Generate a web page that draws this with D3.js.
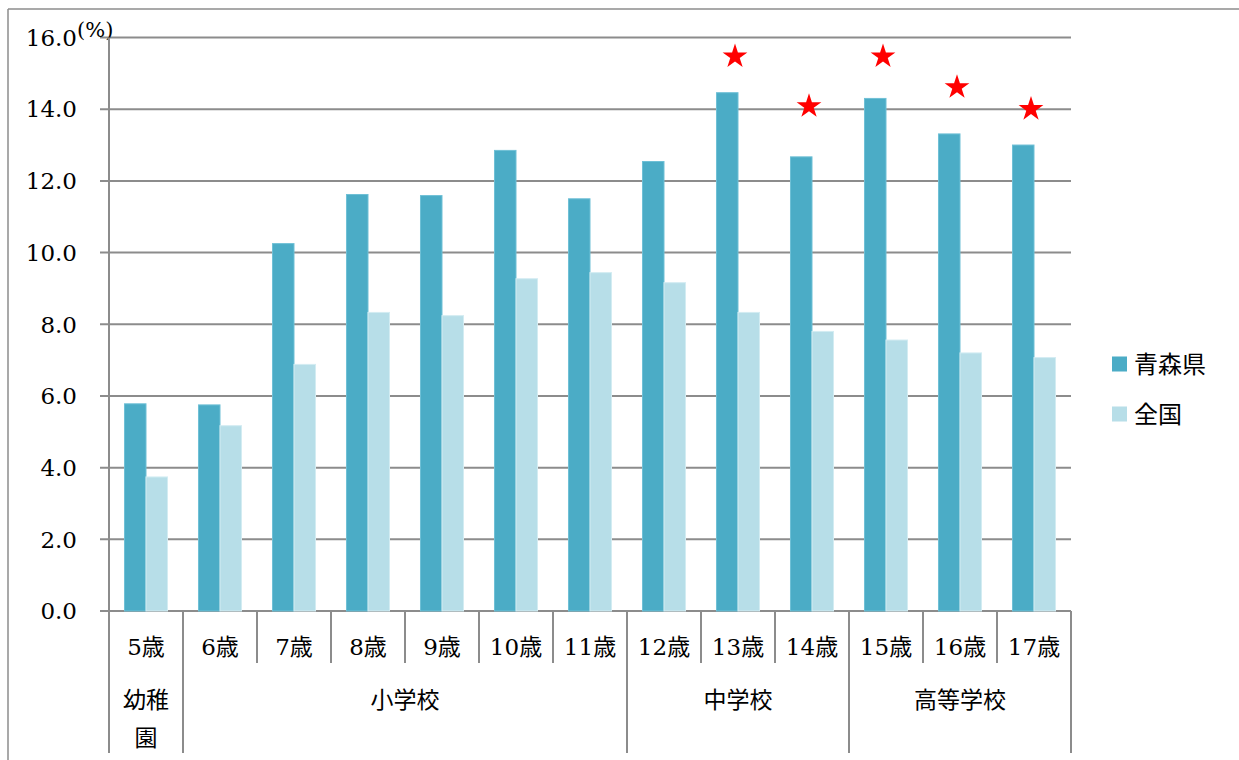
<!DOCTYPE html>
<html><head><meta charset="utf-8">
<script src="https://cdn.jsdelivr.net/npm/d3@7/dist/d3.min.js"></script>
<style>
html,body{margin:0;padding:0;background:#fff;}
svg{display:block;}
</style></head>
<body>
<svg id="chart" width="1239" height="760"></svg>
<script>
const ages = ["5歳","6歳","7歳","8歳","9歳","10歳","11歳","12歳","13歳","14歳","15歳","16歳","17歳"];
const aomori = [5.78,5.75,10.25,11.62,11.59,12.85,11.5,12.54,14.46,12.67,14.30,13.31,13.0];
const national = [3.74,5.17,6.88,8.33,8.24,9.27,9.44,9.16,8.33,7.80,7.56,7.20,7.07];
const seriesNames = ["青森県","全国"];
const yTicks = [0,2,4,6,8,10,12,14,16];
const starAges = ["13歳","14歳","15歳","16歳","17歳"];
const starLevels = [15.5,14.11,15.5,14.64,14.03];
const groupNames = ["幼稚園","小学校","中学校","高等学校"];
const groupStart = ["5歳","6歳","12歳","15歳"];
const groupEnd = ["5歳","11歳","14歳","17歳"];

const colors = ["#4BACC6","#B7DEE8"];
const strokeColors = ["#6fc0d6","#d3ecf2"];
const grid = "#8c8c8c";
const numFont = "'DejaVu Serif','Noto Sans CJK JP',serif";
const cjkFont = "'Noto Sans CJK JP','DejaVu Sans',sans-serif";

const svg = d3.select("#chart");
const x = d3.scaleBand().domain(ages).range([109,1071]).paddingInner(0).paddingOuter(0);
const xs = d3.scaleBand().domain(seriesNames).range([0,x.bandwidth()]).paddingInner(0).paddingOuter(0.72);
const y = d3.scaleLinear().domain([0,16]).range([611,37.5]);

// outer frame
svg.append("line").attr("x1",8).attr("x2",1239).attr("y1",9).attr("y2",9).attr("stroke",grid).attr("stroke-width",1.5);
svg.append("line").attr("x1",8).attr("x2",8).attr("y1",9).attr("y2",760).attr("stroke",grid).attr("stroke-width",1.5);

// gridlines + ticks
svg.append("g").selectAll("line").data(yTicks).join("line")
  .attr("x1",100).attr("x2",1071).attr("y1",d=>y(d)).attr("y2",d=>y(d))
  .attr("stroke",grid).attr("stroke-width",2);

// y labels
svg.append("g").selectAll("text").data(yTicks).join("text")
  .attr("x",77).attr("y",d=>y(d)).attr("dy","0.36em")
  .attr("text-anchor","end").attr("font-family",numFont).attr("font-size",23).attr("fill","#000")
  .text(d=>d.toFixed(1));
svg.append("text").attr("x",77).attr("y",y(16)-1).attr("font-family",numFont).attr("font-size",21).attr("fill","#000").text("(%)");

// bars
const gBars = svg.append("g");
ages.forEach((a,i)=>{
  [aomori[i],national[i]].forEach((v,k)=>{
    gBars.append("rect")
      .attr("x",x(a)+xs(seriesNames[k])).attr("width",xs.bandwidth())
      .attr("y",y(v)).attr("height",y(0)-y(v))
      .attr("fill",colors[k]).attr("stroke",strokeColors[k]).attr("stroke-width",1);
  });
});

// stars
svg.append("g").selectAll("path").data(starAges).join("path")
  .attr("d",d3.symbol().type(d3.symbolStar).size(190))
  .attr("transform",(d,i)=>`translate(${x(d)+x.bandwidth()/2-3},${y(starLevels[i])+1})`)
  .attr("fill","#ff0000");

// axis line (left)
svg.append("line").attr("x1",109).attr("x2",109).attr("y1",37.5).attr("y2",753).attr("stroke",grid).attr("stroke-width",2);

// category separators
const gSep = svg.append("g");
const longBounds = new Set();
groupStart.forEach(s=>longBounds.add(x(s)));
groupEnd.forEach(e=>longBounds.add(x(e)+x.bandwidth()));
const bounds = ages.map(a=>x(a)).concat([x(ages[ages.length-1])+x.bandwidth()]);
bounds.forEach(b=>{
  if (b===109) return;
  gSep.append("line").attr("x1",b).attr("x2",b).attr("y1",y(0)).attr("y2",longBounds.has(b)?753:663)
    .attr("stroke",grid).attr("stroke-width",2);
});

// category labels
svg.append("g").selectAll("text").data(ages).join("text")
  .attr("x",d=>x(d)+x.bandwidth()/2).attr("y",647).attr("dy","0.35em")
  .attr("text-anchor","middle").attr("font-family",numFont).attr("font-size",23).attr("fill","#000")
  .each(function(d){
    const t = d3.select(this);
    t.append("tspan").text(d.replace("歳",""));
    t.append("tspan").attr("font-family",cjkFont).attr("font-size",23).text("歳");
  });

// group labels
groupNames.forEach((g,i)=>{
  const x0 = x(groupStart[i]), x1 = x(groupEnd[i])+x.bandwidth();
  const cx = (x0+x1)/2;
  const lines = (x1-x0) < 100 && g.length>2 ? [g.slice(0,2), g.slice(2)] : [g];
  lines.forEach((ln,j)=>{
    svg.append("text").attr("x",cx).attr("y",700+j*38).attr("dy","0.35em")
      .attr("text-anchor","middle").attr("font-family",cjkFont).attr("font-size",23).attr("fill","#000").text(ln);
  });
});

// legend
seriesNames.forEach((s,i)=>{
  const ly = 364 + i*50;
  svg.append("rect").attr("x",1112).attr("y",ly-7.5).attr("width",15).attr("height",15).attr("fill",colors[i]);
  svg.append("text").attr("x",1134).attr("y",ly).attr("dy","0.36em").attr("font-family",cjkFont).attr("font-size",24).attr("fill","#000").text(s);
});
</script>
</body></html>
